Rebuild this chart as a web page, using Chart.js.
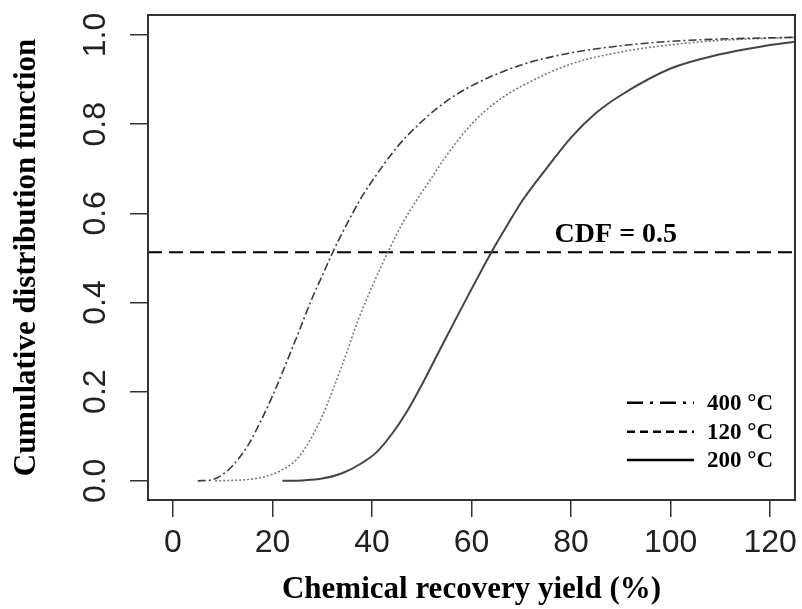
<!DOCTYPE html>
<html><head><meta charset="utf-8">
<script src="https://cdn.jsdelivr.net/npm/chart.js@4/dist/chart.umd.min.js"></script>
<style>html,body{margin:0;padding:0;background:#fff}</style>
</head><body><canvas id="c" width="802" height="609"></canvas>
<script>
const xTicks = [0, 20, 40, 60, 80, 100, 120];
const yTicks = [0.0, 0.2, 0.4, 0.6, 0.8, 1.0];
const seriesNames = ["400 °C", "120 °C", "200 °C"];
const s400 = [[5,0],[8,0.003],[10,0.014],[12,0.034],[15,0.078],[18,0.142],[20,0.19],[22,0.243],[25,0.326],[28,0.41],[30,0.46],[32,0.51],[35,0.577],[38,0.638],[40,0.672],[45,0.748],[50,0.806],[55,0.852],[60,0.886],[70,0.933],[80,0.96],[90,0.976],[100,0.986],[110,0.991],[125,0.995]];
const s120 = [[8.5,0],[12,0.001],[15,0.003],[18,0.008],[20,0.015],[22,0.025],[25,0.05],[28,0.1],[30,0.145],[32,0.2],[35,0.29],[37.2,0.36],[40,0.435],[43.2,0.513],[46,0.575],[49,0.63],[52,0.68],[55,0.73],[60,0.80],[65,0.85],[70,0.885],[80,0.935],[90,0.962],[100,0.978],[110,0.988],[125,0.995]];
const s200 = [[22,0],[26,0.001],[30,0.005],[34,0.017],[38,0.04],[41,0.065],[44,0.105],[47,0.155],[50,0.215],[53,0.28],[56.7,0.36],[60,0.43],[64,0.513],[67,0.57],[70.3,0.63],[75,0.70],[80,0.77],[85,0.825],[90,0.865],[100,0.925],[110,0.957],[118,0.974],[125,0.985]];
const cdfLine = [[-5,0.513],[125,0.513]];
const cdfLabel = "CDF = 0.5";
const xTitle = "Chemical recovery yield (%)";
const yTitle = "Cumulative distribution function";

const toPts = a => a.map(p => ({x:p[0], y:p[1]}));
const serif = "'Liberation Serif','Times New Roman',serif";
const sans = "'Liberation Sans',Arial,sans-serif";

const legendStyles = [[16,7,3,7],[8,5],[]];

const boxPlugin = {
  id:'box',
  afterDraw(chart){
    const {ctx, chartArea:a, scales} = chart;
    ctx.save();
    ctx.strokeStyle = '#333'; ctx.lineWidth = 2;
    ctx.strokeRect(a.left, a.top, a.right-a.left, a.bottom-a.top);
    ctx.fillStyle = '#000';
    ctx.font = 'bold 28px ' + serif;
    ctx.textAlign = 'center'; ctx.textBaseline = 'middle';
    ctx.fillText(cdfLabel, scales.x.getPixelForValue(89), scales.y.getPixelForValue(0.553));
    ctx.font = 'bold 23px ' + serif;
    ctx.textAlign = 'left';
    const rowY = [0.175, 0.11, 0.047];
    for (let i=0;i<3;i++){
      const y = scales.y.getPixelForValue(rowY[i]);
      ctx.setLineDash(legendStyles[i]);
      ctx.lineWidth = 2.5; ctx.strokeStyle = '#000';
      ctx.beginPath(); ctx.moveTo(627, y); ctx.lineTo(694, y); ctx.stroke();
      ctx.fillText(seriesNames[i], 707, y+1);
    }
    ctx.restore();
  }
};

new Chart(document.getElementById('c'), {
  type:'line',
  data:{datasets:[
    {label:seriesNames[0], data:toPts(s400), borderColor:'#3a3a3a', borderWidth:1.6, borderDash:[8,3,2,3], pointRadius:0, cubicInterpolationMode:'monotone', fill:false},
    {label:seriesNames[1], data:toPts(s120), borderColor:'#7a7a7a', borderWidth:1.6, borderDash:[2,2], pointRadius:0, cubicInterpolationMode:'monotone', fill:false},
    {label:seriesNames[2], data:toPts(s200), borderColor:'#444', borderWidth:2, pointRadius:0, cubicInterpolationMode:'monotone', fill:false},
    {label:'CDF', data:toPts(cdfLine), borderColor:'#000', borderWidth:2, borderDash:[14,7], pointRadius:0, fill:false}
  ]},
  options:{
    responsive:false, animation:false, events:[],
    layout:{padding:{left:8, top:15, right:7, bottom:0}},
    plugins:{legend:{display:false}, tooltip:{enabled:false}},
    scales:{
      x:{type:'linear', min:-5, max:125,
        afterBuildTicks(s){ s.ticks = xTicks.map(v=>({value:v})); },
        afterFit(s){ s.height = 109; s.paddingLeft = 0; s.paddingRight = 0; },
        grid:{drawOnChartArea:false, color:'#333', lineWidth:1.5, tickLength:17, tickColor:'#333'},
        border:{display:false},
        ticks:{color:'#222', font:{family:sans, size:32}, padding:7, maxRotation:0, autoSkip:false},
        title:{display:true, text:xTitle, color:'#000', font:{family:serif, size:31, weight:'bold'}, padding:{top:0,bottom:0}}
      },
      y:{type:'linear', min:-0.043, max:1.045,
        afterBuildTicks(s){ s.ticks = yTicks.map(v=>({value:v})); },
        afterFit(s){ s.width = 140; s.paddingTop = 0; s.paddingBottom = 0; },
        grid:{drawOnChartArea:false, color:'#333', lineWidth:1.5, tickLength:18, tickColor:'#333'},
        border:{display:false},
        ticks:{color:'#222', font:{family:sans, size:32}, padding:12, minRotation:90, maxRotation:90, crossAlign:'center', autoSkip:false,
          callback:v=>v.toFixed(1)},
        title:{display:true, text:yTitle, color:'#000', font:{family:serif, size:31, weight:'bold'}, padding:{top:0,bottom:0}}
      }
    }
  },
  plugins:[boxPlugin]
});
</script></body></html>
